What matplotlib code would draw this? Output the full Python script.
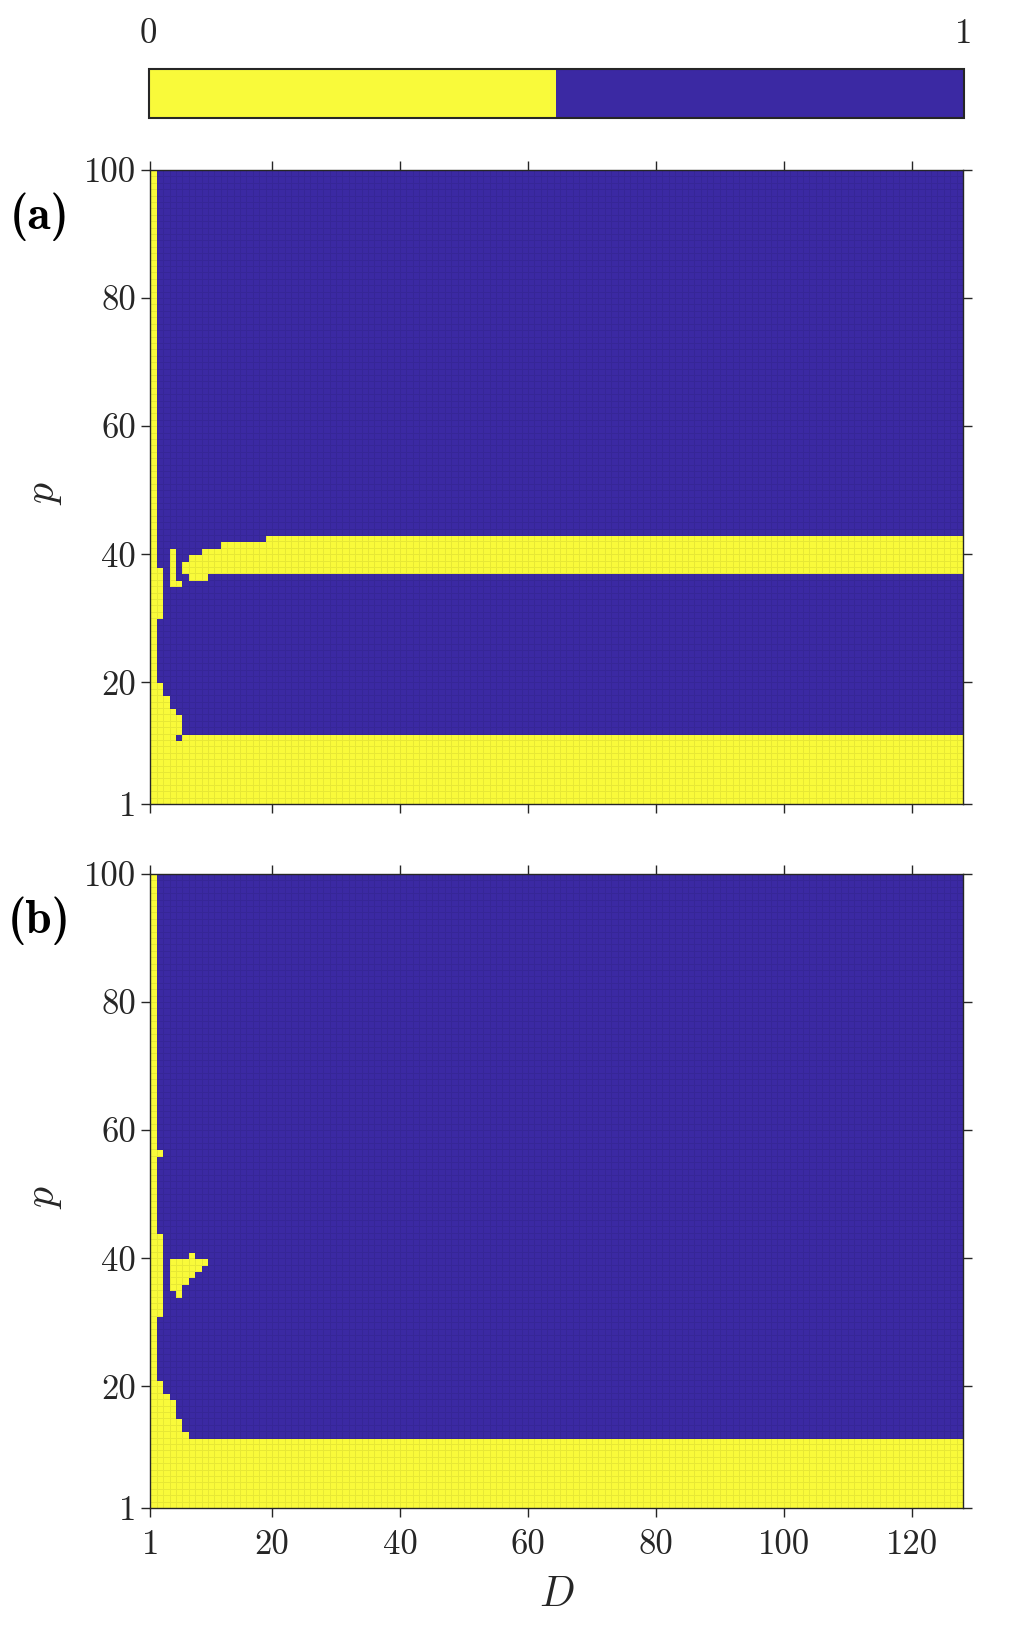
import numpy as np
import matplotlib
matplotlib.use('Agg')
import matplotlib.pyplot as plt
from matplotlib.colors import ListedColormap, Normalize

plt.rcParams['font.family'] = 'cmr10'
plt.rcParams['mathtext.fontset'] = 'cm'
plt.rcParams['axes.unicode_minus'] = False

# grid: D = 1..128, p = 1..100 (pcolor style, cells between integer edges)
D_edges = np.arange(1, 129)
p_edges = np.arange(1, 101)

# yellow (value 0) blocks, as (D_from, D_to, p_from, p_to); the rest is 1
zeros_a = [(1, 2, 1, 100), (2, 3, 1, 20), (3, 4, 1, 18), (4, 5, 1, 16),
           (5, 6, 1, 11), (5, 6, 12, 15), (6, 128, 1, 12),
           (2, 3, 30, 38), (4, 5, 35, 41), (5, 6, 35, 36), (6, 7, 37, 39),
           (7, 9, 36, 40), (9, 10, 36, 41), (10, 12, 37, 41),
           (12, 19, 37, 42), (19, 128, 37, 43)]
zeros_b = [(1, 2, 1, 100), (2, 3, 56, 57), (2, 3, 31, 44), (2, 3, 1, 21),
           (3, 4, 1, 19), (4, 5, 1, 18), (5, 6, 1, 15), (6, 7, 1, 13),
           (7, 128, 1, 12),
           (4, 5, 35, 40), (5, 6, 34, 40), (6, 7, 36, 40), (7, 8, 37, 41),
           (8, 9, 38, 40), (9, 10, 39, 40)]

D_ticks = [1, 20, 40, 60, 80, 100, 120]
p_ticks = [1, 20, 40, 60, 80, 100]
panel_labels = ['(a)', '(b)']

yellow = '#F9FA3A'
blue = '#3B29A3'
cmap = ListedColormap([yellow, blue])
norm = Normalize(0, 1)
dark = '#262626'


def build(blocks):
    Z = np.ones((len(p_edges) - 1, len(D_edges) - 1))
    for d0, d1, q0, q1 in blocks:
        Z[q0 - 1:q1 - 1, d0 - 1:d1 - 1] = 0
    return Z


fig = plt.figure(figsize=(10.12, 16.37), dpi=100)
W, H = 1012, 1637
ax_a = fig.add_axes([150.5 / W, 1 - 804 / H, 812.5 / W, 634 / H])
ax_b = fig.add_axes([150.5 / W, 1 - 1508 / H, 812.5 / W, 634 / H])
cax = fig.add_axes([148.5 / W, 1 - 117.5 / H, 815.5 / W, 49 / H])

for ax, blocks, lab in [(ax_a, zeros_a, panel_labels[0]), (ax_b, zeros_b, panel_labels[1])]:
    Z = build(blocks)
    mesh = ax.pcolormesh(D_edges, p_edges, Z, cmap=cmap, norm=norm,
                         edgecolors=(0, 0, 0, 0.07), linewidth=0.4)
    ax.set_xlim(1, 128)
    ax.set_ylim(1, 100)
    ax.set_xticks(D_ticks)
    ax.set_yticks(p_ticks)
    ax.tick_params(direction='out', length=6.5, width=1.0, color=dark,
                   labelsize=25, labelcolor=dark, top=True, right=True, pad=4)
    ax.tick_params(axis='x', pad=9)
    for s in ax.spines.values():
        s.set_color(dark)
        s.set_linewidth(1.0)
    ax.set_ylabel('$p$', fontsize=30, color=dark)
    ax.yaxis.set_label_coords(-0.106, 0.49)
    ax.text(-0.137, 0.927, lab, transform=ax.transAxes, fontsize=34,
            family='cmb10', ha='center', va='center', color='black')

ax_a.tick_params(axis='x', labelbottom=False)
ax_b.set_xlabel('$D$', fontsize=30, color=dark)
ax_b.xaxis.set_label_coords(0.5, -0.108)

cb = fig.colorbar(mesh, cax=cax, orientation='horizontal', ticks=[0, 1])
cax.xaxis.set_ticks_position('top')
cax.tick_params(length=0, labelsize=25, labelcolor=dark, pad=13)
cb.outline.set_edgecolor(dark)
cb.outline.set_linewidth(1.5)

fig.savefig('out.png', dpi=100)
